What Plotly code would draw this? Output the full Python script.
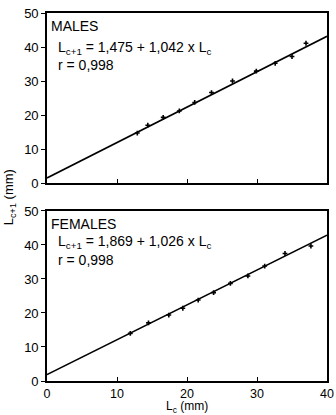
import plotly.graph_objects as go

# Males: carapace length at moult c (Lc) vs at c+1 (Lc+1), mm
males_lc = [12.9, 14.4, 16.6, 18.9, 21.1, 23.5, 26.5, 29.9, 32.6, 35.0, 37.0]
males_lc1 = [14.7, 17.0, 19.3, 21.2, 23.7, 26.6, 30.0, 32.9, 35.2, 37.2, 41.1]
females_lc = [11.9, 14.5, 17.4, 19.4, 21.6, 23.8, 26.2, 28.7, 31.1, 34.0, 37.7]
females_lc1 = [14.0, 17.1, 19.4, 21.4, 23.8, 26.0, 28.7, 30.9, 33.8, 37.5, 39.7]
males_fit = [1.475, 1.042]   # intercept, slope
females_fit = [1.869, 1.026]
line_x = [0, 40]
x_ticks = [0, 10, 20, 30, 40]
y_ticks = [0, 10, 20, 30, 40, 50]

FONT = "Liberation Sans"
fig = go.Figure()

for lc, lc1, fit, ax in [(males_lc, males_lc1, males_fit, ("x", "y")),
                         (females_lc, females_lc1, females_fit, ("x2", "y2"))]:
    fig.add_trace(go.Scatter(x=line_x, y=[fit[0] + fit[1] * v for v in line_x],
                             mode="lines", line=dict(color="black", width=1.6),
                             xaxis=ax[0], yaxis=ax[1], showlegend=False))
    fig.add_trace(go.Scatter(x=lc, y=lc1, mode="markers",
                             marker=dict(symbol="cross", size=4, color="black"),
                             xaxis=ax[0], yaxis=ax[1], showlegend=False))

axis_common = dict(range=[0, 40], showgrid=False, zeroline=False, showline=True,
                   linecolor="black", linewidth=1.6, mirror=True, automargin=False,
                   tickvals=x_ticks, ticks="inside", ticklen=4, tickcolor="black",
                   tickfont=dict(family=FONT, size=12.5, color="black"))
yaxis_common = dict(range=[0, 50], showgrid=False, zeroline=False, showline=True,
                    linecolor="black", linewidth=1.6, mirror=True, automargin=False,
                    tickvals=y_ticks, ticks="outside", ticklen=4, tickcolor="black",
                    tickfont=dict(family=FONT, size=13, color="black"))

fig.update_layout(
    width=336, height=415,
    margin=dict(l=47, r=9, t=13, b=34),
    paper_bgcolor="white", plot_bgcolor="white",
    xaxis=dict(**axis_common, domain=[0, 1], anchor="y", showticklabels=False),
    yaxis=dict(**yaxis_common, domain=[0.538, 1], anchor="x"),
    xaxis2=dict(**axis_common, domain=[0, 1], anchor="y2"),
    yaxis2=dict(**yaxis_common, domain=[0, 0.462], anchor="x2"),
    font=dict(family=FONT, color="black"),
)

ann_font = dict(family=FONT, size=14, color="black")
annotations = [
    dict(x=0.3, y=49.0, xref="x", yref="y", text="MALES"),
    dict(x=1.3, y=43.0, xref="x", yref="y",
         text="L<sub>c+1</sub> = 1,475 + 1,042 x L<sub>c</sub>"),
    dict(x=1.3, y=37.6, xref="x", yref="y", text="r = 0,998"),
    dict(x=0.3, y=49.0, xref="x2", yref="y2", text="FEMALES"),
    dict(x=1.3, y=44.0, xref="x2", yref="y2",
         text="L<sub>c+1</sub> = 1,869 + 1,026 x L<sub>c</sub>"),
    dict(x=1.3, y=38.6, xref="x2", yref="y2", text="r = 0,998"),
]
for a in annotations:
    fig.add_annotation(**a, showarrow=False, xanchor="left", yanchor="top", font=ann_font)

fig.add_annotation(x=-0.135, y=0.5, xref="paper", yref="paper",
                   text="L<sub>c+1</sub> (mm)", textangle=-90, showarrow=False,
                   xanchor="center", yanchor="middle",
                   font=dict(family=FONT, size=13, color="black"))
fig.add_annotation(x=0.5, y=-0.099, xref="paper", yref="paper",
                   text="L<sub>c</sub> (mm)", showarrow=False,
                   xanchor="center", yanchor="bottom",
                   font=dict(family=FONT, size=12, color="black"))

fig.write_html("out.html", config={"displayModeBar": False},
               post_script="document.body.style.margin='0';document.body.style.overflow='hidden';")
